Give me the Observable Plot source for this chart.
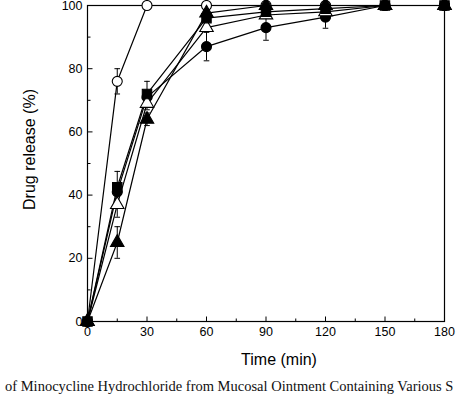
<!DOCTYPE html>
<html><head><meta charset="utf-8">
<script src="https://cdn.jsdelivr.net/npm/d3@7"></script>
<script src="https://cdn.jsdelivr.net/npm/@observablehq/plot@0.6"></script>
<style>
body{margin:0;background:#fff;overflow:hidden;width:474px;height:395px}
#cap{font-family:"Liberation Serif","Times New Roman",serif;font-size:14.5px;line-height:13px;white-space:nowrap;margin-left:5px;margin-top:0;color:#111}
</style></head><body>
<div id="chart"></div>
<div id="cap">of Minocycline Hydrochloride from Mucosal Ointment Containing Various S</div>
<script>
const times = [0, 15, 30, 60, 90, 120, 150, 180];
const seriesNames = ["openCircle", "filledCircle", "openTriangle", "filledTriangle", "filledSquare"];
const openCircle     = [0, 76, 100, 100, 100, 100, 100, 100];
const filledCircle   = [0, 41, 71, 87, 93, 96.3, 100, 100];
const openTriangle   = [0, 37, 69, 93, 97, 98, 100, 100];
const filledTriangle = [0, 25, 64, 97.6, 100, 100, 100, 100];
const filledSquare   = [0, 42.5, 72, 96, 98, 99, 100, 100];
const errOpenCircle     = [0, 4, 0, 0, 0, 0, 0, 0];
const errFilledCircle   = [0, 0, 0, 4.5, 4, 3.5, 0, 0];
const errOpenTriangle   = [0, 4, 2, 0, 0, 0, 0, 0];
const errFilledTriangle = [0, 5, 2, 0, 0, 0, 0, 0];
const errFilledSquare   = [0, 5, 4, 0, 0, 0, 0, 0];
const xTicks = [0, 30, 60, 90, 120, 150, 180];
const xMinor = [15, 45, 75, 105, 135, 165];
const yTicks = [0, 20, 40, 60, 80, 100];
const yMinor = [10, 30, 50, 70, 90];

const values = {openCircle, filledCircle, openTriangle, filledTriangle, filledSquare};
const errs = {openCircle: errOpenCircle, filledCircle: errFilledCircle, openTriangle: errOpenTriangle, filledTriangle: errFilledTriangle, filledSquare: errFilledSquare};
const data = seriesNames.flatMap(s => times.map((t, i) => ({s, t, v: values[s][i], e: errs[s][i]})));
const errData = data.filter(d => d.e > 0);

const hline = {draw(ctx, size){const r = Math.sqrt(size/Math.PI); ctx.moveTo(-r,0); ctx.lineTo(r,0);}};
const tickUp = {draw(ctx, size){const r = Math.sqrt(size/Math.PI); ctx.moveTo(0,0); ctx.lineTo(0,-r);}};
const tickRight = {draw(ctx, size){const r = Math.sqrt(size/Math.PI); ctx.moveTo(0,0); ctx.lineTo(r,0);}};

const style = {
  openCircle: {symbol: "circle", fill: "white", r: 5},
  filledCircle: {symbol: "circle", fill: "black", r: 5},
  openTriangle: {symbol: "triangle", fill: "white", r: 5},
  filledTriangle: {symbol: "triangle", fill: "black", r: 5},
  filledSquare: {symbol: "square", fill: "black", r: 5.3}
};

const chart = Plot.plot({
  width: 474, height: 380,
  marginLeft: 87, marginRight: 30, marginTop: 5, marginBottom: 59,
  style: {fontFamily: "'Liberation Sans', Arial, sans-serif", fontSize: "12.5px", color: "black", background: "white"},
  x: {domain: [0, 180]},
  y: {domain: [0, 100]},
  marks: [
    Plot.frame({stroke: "black", strokeWidth: 1.2}),
    Plot.axisX(xTicks, {tickSize: 0, tickPadding: 6, label: null, fontSize: 12.5}),
    Plot.axisY(yTicks, {tickSize: 0, tickPadding: 5, label: null, fontSize: 12.5}),
    Plot.dot(xTicks, {x: d => d, y: 0, symbol: tickUp, r: 5, stroke: "black", strokeWidth: 1}),
    Plot.dot(xMinor, {x: d => d, y: 0, symbol: tickUp, r: 3, stroke: "black", strokeWidth: 1}),
    Plot.dot(yTicks, {x: 0, y: d => d, symbol: tickRight, r: 5, stroke: "black", strokeWidth: 1}),
    Plot.dot(yMinor, {x: 0, y: d => d, symbol: tickRight, r: 3, stroke: "black", strokeWidth: 1}),
    Plot.line(data, {x: "t", y: "v", z: "s", stroke: "black", strokeWidth: 1.2}),
    Plot.ruleX(errData, {x: "t", y1: d => d.v - d.e, y2: d => d.v + d.e, stroke: "black", strokeWidth: 1}),
    Plot.dot(errData, {x: "t", y: d => d.v + d.e, symbol: hline, r: 2.8, stroke: "black", strokeWidth: 1}),
    Plot.dot(errData, {x: "t", y: d => d.v - d.e, symbol: hline, r: 2.8, stroke: "black", strokeWidth: 1}),
    ...seriesNames.map(s => Plot.dot(data.filter(d => d.s === s), {x: "t", y: "v", stroke: "black", strokeWidth: 1.1, ...style[s]})),
    Plot.text(["Time (min)"], {frameAnchor: "bottom", textAnchor: "middle", dy: 43, dx: 13, fontSize: 16, text: d => d}),
    Plot.text(["Drug release (%)"], {frameAnchor: "left", textAnchor: "middle", rotate: -90, dx: -58, dy: -14, fontSize: 16, text: d => d})
  ]
});
document.getElementById("chart").appendChild(chart);
</script>
</body></html>
